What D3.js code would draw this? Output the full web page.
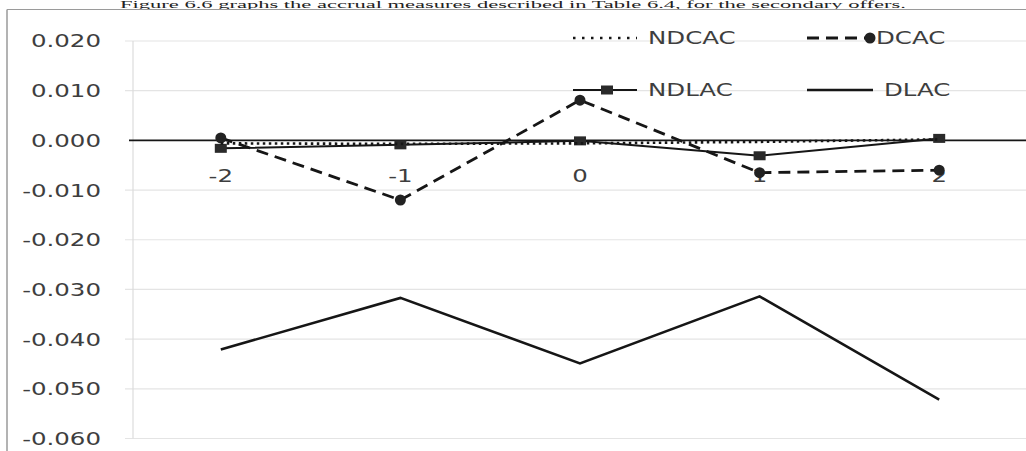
<!DOCTYPE html>
<html>
<head>
<meta charset="utf-8">
<script src="https://cdn.jsdelivr.net/npm/d3@7"></script>
<style>
  html, body { margin: 0; padding: 0; background: #fff; }
  svg { display: block; }
</style>
</head>
<body>
<svg id="chart" width="1026" height="451"></svg>
<script>
// Event-window days
const days = ["-2", "-1", "0", "1", "2"];

// Accrual measures per day
const ndcac = [-0.0006, -0.0007, -0.0006, -0.0003, 0.0002];
const dcac  = [0.0005, -0.0120, 0.0081, -0.0065, -0.0060];
const ndlac = [-0.0016, -0.0009, -0.0001, -0.0031, 0.0004];
const dlac  = [-0.0421, -0.0317, -0.0449, -0.0314, -0.0522];

// Y-axis tick values and labels
const yTicks = [0.02, 0.01, 0, -0.01, -0.02, -0.03, -0.04, -0.05, -0.06];
const yTickLabels = ["0.020", "0.010", "0.000", "-0.010", "-0.020", "-0.030", "-0.040", "-0.050", "-0.060"];

const caption = "Figure 6.6 graphs the accrual measures described in Table 6.4, for the secondary offers.";

const svg = d3.select("#chart");
const ink = "#161616";
const textCol = "#3e3e3e";
const sx = 1.36; // horizontal stretch of the label face

const x = d3.scalePoint().domain(days).range([131, 1029]).padding(0.5);
const y = d3.scaleLinear().domain([-0.06, 0.02]).range([438.5, 41]);

// Caption line above the frame
svg.append("text")
  .attr("x", 120).attr("y", 7.5)
  .attr("textLength", 786).attr("lengthAdjust", "spacingAndGlyphs")
  .attr("font-family", "Liberation Serif, serif")
  .attr("font-size", 10)
  .attr("fill", "#222")
  .text(caption);

// Chart frame
svg.append("line").attr("x1", 7).attr("x2", 1026).attr("y1", 9.5).attr("y2", 9.5)
  .attr("stroke", "#9a9a9a").attr("stroke-width", 1.2);
svg.append("line").attr("x1", 7).attr("x2", 7).attr("y1", 9.5).attr("y2", 451)
  .attr("stroke", "#9a9a9a").attr("stroke-width", 1.5);

// Gridlines
svg.append("g").selectAll("line").data(yTicks.filter(d => d !== 0)).join("line")
  .attr("x1", 125).attr("x2", 1026)
  .attr("y1", d => y(d)).attr("y2", d => y(d))
  .attr("stroke", "#e4e4e4").attr("stroke-width", 1.2);
svg.append("line").attr("x1", 133).attr("x2", 133).attr("y1", y(0.02)).attr("y2", y(-0.06))
  .attr("stroke", "#dcdcdc").attr("stroke-width", 1.2);

// Y tick labels
const yl = svg.append("g").selectAll("g").data(yTicks).join("g")
  .attr("transform", d => `translate(101,${y(d)}) scale(${sx},1)`);
yl.append("text")
  .attr("text-anchor", "end").attr("dy", "0.36em")
  .attr("font-family", "DejaVu Sans, sans-serif").attr("font-size", 18)
  .attr("fill", textCol)
  .text((d, i) => yTickLabels[i]);

// Zero baseline
svg.append("line").attr("x1", 129).attr("x2", 1026).attr("y1", y(0)).attr("y2", y(0))
  .attr("stroke", ink).attr("stroke-width", 1.6);

// Category labels below the baseline
const xl = svg.append("g").selectAll("g").data(days).join("g")
  .attr("transform", d => `translate(${x(d)},${y(0) + 35}) scale(${sx},1)`);
xl.append("text")
  .attr("text-anchor", "middle").attr("dy", "0.36em")
  .attr("font-family", "DejaVu Sans, sans-serif").attr("font-size", 18)
  .attr("fill", textCol)
  .text(d => d);

const line = d3.line().x((d, i) => x(days[i])).y(d => y(d));

// DLAC
svg.append("path").datum(dlac).attr("d", line)
  .attr("fill", "none").attr("stroke", ink).attr("stroke-width", 2.6)
  .attr("stroke-linejoin", "miter");

// NDLAC with square markers
svg.append("path").datum(ndlac).attr("d", line)
  .attr("fill", "none").attr("stroke", ink).attr("stroke-width", 2);
svg.append("g").selectAll("rect").data(ndlac).join("rect")
  .attr("x", (d, i) => x(days[i]) - 6).attr("y", d => y(d) - 4.5)
  .attr("width", 12).attr("height", 9).attr("fill", "#2a2a2a");

// DCAC dashed with circle markers
svg.append("path").datum(dcac).attr("d", line)
  .attr("fill", "none").attr("stroke", ink).attr("stroke-width", 2.8)
  .attr("stroke-dasharray", "12,7");
svg.append("g").selectAll("circle").data(dcac).join("circle")
  .attr("cx", (d, i) => x(days[i])).attr("cy", d => y(d))
  .attr("r", 5.5).attr("fill", "#222");

// NDCAC dotted
svg.append("path").datum(ndcac).attr("d", line)
  .attr("fill", "none").attr("stroke", ink).attr("stroke-width", 2.6)
  .attr("stroke-dasharray", "2.5,3.5");

// Legend
const legendNames = ["NDCAC", "DCAC", "NDLAC", "DLAC"];
const legendPos = [[573, 38], [807, 38], [573, 90], [807, 90]];
const lg = svg.append("g").selectAll("g").data(legendNames).join("g")
  .attr("transform", (d, i) => `translate(${legendPos[i][0]},${legendPos[i][1]})`);

lg.each(function (name) {
  const g = d3.select(this);
  const sample = g.append("line").attr("x1", 0).attr("x2", name === "DLAC" ? 66 : 64)
    .attr("y1", 0).attr("y2", 0).attr("stroke", ink);
  if (name === "NDCAC") sample.attr("stroke-width", 2.6).attr("stroke-dasharray", "2.5,6.5");
  if (name === "DCAC") {
    sample.attr("x2", 58).attr("stroke-width", 2.8).attr("stroke-dasharray", "12,7");
    g.append("circle").attr("cx", 63).attr("cy", 0).attr("r", 5.5).attr("fill", "#222");
  }
  if (name === "NDLAC") {
    sample.attr("stroke-width", 2);
    g.append("rect").attr("x", 28).attr("y", -4.5).attr("width", 12).attr("height", 9).attr("fill", "#2a2a2a");
  }
  if (name === "DLAC") sample.attr("stroke-width", 2.6);
  const tx = name === "DCAC" ? 69 : (name === "DLAC" ? 77 : 75);
  g.append("g").attr("transform", `translate(${tx},0) scale(${sx},1)`)
    .append("text").attr("dy", "0.36em")
    .attr("font-family", "DejaVu Sans, sans-serif").attr("font-size", 18)
    .attr("fill", textCol).text(name);
});
</script>
</body>
</html>
